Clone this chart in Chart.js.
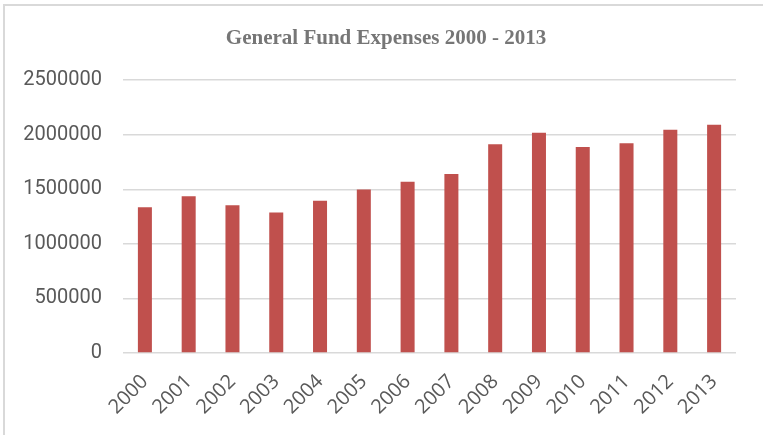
<!DOCTYPE html>
<html>
<head>
<meta charset="utf-8">
<script src="https://cdn.jsdelivr.net/npm/chart.js@4"></script>
<style>
    html, body { margin: 0; padding: 0; background: #fff; overflow: hidden; }
    #frame {
        position: absolute; left: 3px; top: 4px; width: 780px; height: 460px;
        border-left: 2px solid #d9d9d9; border-top: 2px solid #d9d9d9;
    }
    #wrap { position: absolute; left: 0; top: 0; width: 763px; height: 435px; }
</style>
</head>
<body>
<div id="frame"></div>
<div id="wrap"><canvas id="expenseChart" width="763" height="435"></canvas></div>
<script>
const years = ['2000', '2001', '2002', '2003', '2004', '2005', '2006',
               '2007', '2008', '2009', '2010', '2011', '2012', '2013'];
const expenses = [1335000, 1436000, 1354000, 1287000, 1396000, 1497000, 1570000,
                  1640000, 1912000, 2018000, 1887000, 1921000, 2046000, 2091000];
const yTicks = [0, 500000, 1000000, 1500000, 2000000, 2500000];

// nudge the title block so it centres over x≈386 like the original
const titleShift = {
    id: 'titleShift',
    afterLayout: function(chart) {
        if (chart.titleBlock) {
            chart.titleBlock.left = 36;
        }
    }
};

document.addEventListener('DOMContentLoaded', function() {
    const ctx = document.getElementById('expenseChart').getContext('2d');
    new Chart(ctx, {
        type: 'bar',
        data: {
            labels: years,
            datasets: [{
                label: 'General Fund Expenses',
                data: expenses,
                backgroundColor: '#c0504d',
                barPercentage: 0.32,
                categoryPercentage: 1.0
            }]
        },
        options: {
            responsive: false,
            animation: false,
            layout: { padding: { left: 0, right: 27, top: 27, bottom: 0 } },
            plugins: {
                legend: { display: false },
                tooltip: { enabled: false },
                title: {
                    display: true,
                    text: 'General Fund Expenses 2000 - 2013',
                    color: '#767676',
                    font: { family: '"Liberation Serif", "Times New Roman", serif', size: 21, weight: 'bold', lineHeight: 1.15 },
                    padding: { top: 0, bottom: 29 }
                }
            },
            scales: {
                x: {
                    afterFit: function(scale) { scale.height = 82; },
                    grid: { display: false },
                    border: { display: false },
                    ticks: {
                        color: '#595959',
                        font: { family: '"Open Sans", "Liberation Sans", sans-serif', size: 20 },
                        maxRotation: 45,
                        minRotation: 45,
                        padding: 9
                    }
                },
                y: {
                    min: 0,
                    max: 2500000,
                    afterFit: function(scale) { scale.width = 123; },
                    afterBuildTicks: function(scale) {
                        scale.ticks = yTicks.map(v => ({ value: v }));
                    },
                    grid: { color: '#d9d9d9', lineWidth: 1.5, drawTicks: false },
                    border: { display: false },
                    ticks: {
                        color: '#595959',
                        font: { family: 'Roboto, "Liberation Sans", sans-serif', size: 20 },
                        padding: 21,
                        callback: function(value) { return String(value); }
                    }
                }
            }
        },
        plugins: [titleShift]
    });
});
</script>
</body>
</html>
